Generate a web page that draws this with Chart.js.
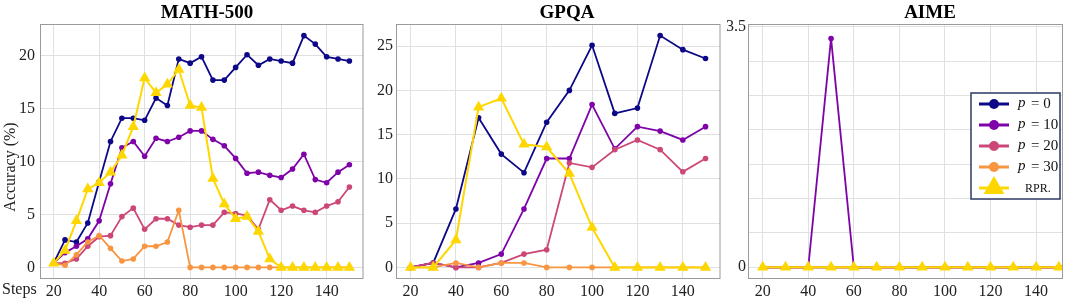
<!DOCTYPE html>
<html>
<head>
<meta charset="utf-8">
<script src="https://cdn.jsdelivr.net/npm/chart.js@4/dist/chart.umd.min.js"></script>
<style>
  body { margin: 0; background: #fff; width: 1080px; height: 305px; position: relative; overflow: hidden; }
  canvas { position: absolute; top: 0; }
</style>
</head>
<body>
<canvas id="math" width="370" height="305" style="left:0"></canvas>
<canvas id="gpqa" width="357" height="305" style="left:370px"></canvas>
<canvas id="aime" width="353" height="305" style="left:727px"></canvas>
<script>
// MATH-500, steps every 5
const mathSteps = [20, 25, 30, 35, 40, 45, 50, 55, 60, 65, 70, 75, 80, 85, 90, 95, 100, 105, 110, 115, 120, 125, 130, 135, 140, 145, 150];
const mathP0  = [0.4, 2.6, 2.4, 4.2, 8.1, 11.9, 14.1, 14.1, 13.9, 16.0, 15.3, 19.7, 19.3, 19.9, 17.7, 17.7, 18.9, 20.1, 19.1, 19.7, 19.5, 19.3, 21.9, 21.1, 19.9, 19.7, 19.5];
const mathP10 = [0.4, 1.4, 2.0, 2.7, 4.4, 7.9, 11.3, 11.9, 10.5, 12.2, 11.9, 12.3, 12.9, 12.9, 12.1, 11.5, 10.3, 8.9, 9.0, 8.7, 8.5, 9.3, 10.7, 8.3, 8.0, 9.0, 9.7];
const mathP20 = [0.4, 0.4, 0.8, 2.0, 2.9, 3.0, 4.8, 5.6, 3.6, 4.6, 4.6, 4.0, 3.8, 4.0, 4.0, 5.2, 5.1, 4.9, 3.6, 6.4, 5.4, 5.8, 5.4, 5.2, 5.8, 6.2, 7.6];
const mathP30 = [0.4, 0.2, 1.2, 2.4, 3.0, 1.8, 0.6, 0.8, 2.0, 2.0, 2.4, 5.4, 0, 0, 0, 0, 0, 0, 0, 0, 0, 0, 0, 0, 0, 0, 0];
const mathRpr = [0.4, 1.6, 4.4, 7.4, 8.0, 9.0, 10.6, 13.3, 17.9, 16.5, 17.3, 18.7, 15.3, 15.1, 8.4, 6.0, 4.6, 4.8, 3.4, 0.8, 0, 0, 0, 0, 0, 0, 0];

// GPQA, steps every 10
const gpqaSteps = [20, 30, 40, 50, 60, 70, 80, 90, 100, 110, 120, 130, 140, 150];
const gpqaP0  = [0, 0.5, 6.6, 16.9, 12.8, 10.7, 16.4, 20.0, 25.1, 17.4, 18.0, 26.2, 24.6, 23.6];
const gpqaP10 = [0, 0.5, 0, 0.5, 1.5, 6.6, 12.3, 12.3, 18.4, 13.4, 15.9, 15.4, 14.4, 15.9];
const gpqaP20 = [0, 0.5, 0, 0, 0.5, 1.5, 2.0, 11.8, 11.3, 13.3, 14.4, 13.3, 10.8, 12.3];
const gpqaP30 = [0, 0, 0.5, 0, 0.5, 0.5, 0, 0, 0, 0, 0, 0, 0, 0];
const gpqaRpr = [0, 0, 3.1, 18.1, 19.1, 13.9, 13.6, 10.6, 4.5, 0, 0, 0, 0, 0];

// AIME, steps every 10
const aimeSteps = [20, 30, 40, 50, 60, 70, 80, 90, 100, 110, 120, 130, 140, 150];
const aimeP0  = [0, 0, 0, 0, 0, 0, 0, 0, 0, 0, 0, 0, 0, 0];
const aimeP10 = [0, 0, 0, 3.33, 0, 0, 0, 0, 0, 0, 0, 0, 0, 0];
const aimeP20 = [0, 0, 0, 0, 0, 0, 0, 0, 0, 0, 0, 0, 0, 0];
const aimeP30 = [0, 0, 0, 0, 0, 0, 0, 0, 0, 0, 0, 0, 0, 0];
const aimeRpr = [0, 0, 0, 0, 0, 0, 0, 0, 0, 0, 0, 0, 0, 0];

const xTicks = [20, 40, 60, 80, 100, 120, 140];
const mathYTicks = [0, 5, 10, 15, 20];
const gpqaYTicks = [0, 5, 10, 15, 20, 25];
const aimeYTicks = [0, 0.5, 1, 1.5, 2, 2.5, 3, 3.5];
const aimeYLabels = [0, 3.5];

const pValues = [0, 10, 20, 30];
const seriesNames = ['p = 0', 'p = 10', 'p = 20', 'p = 30', 'RPR.'];
const seriesColors = ['#0d0887', '#7e03a8', '#cc4778', '#f89540', '#ffd700'];

const SERIF = '"Liberation Serif", "Times New Roman", serif';

function lineSet(i, steps, values) {
    const rpr = i === 4;
    return {
        label: seriesNames[i],
        data: steps.map((s, k) => ({ x: s, y: values[k] })),
        borderColor: seriesColors[i],
        backgroundColor: seriesColors[i],
        borderWidth: rpr ? 2 : 1.8,
        pointStyle: rpr ? 'triangle' : 'circle',
        pointRadius: rpr ? 6.5 : 2.8,
        pointBorderWidth: 0,
        pointHoverRadius: 0,
        order: 4 - i,
        tension: 0
    };
}

// frame, titles and the legend box
const decoPlugin = {
    id: 'deco',
    afterDraw(chart, args, opts) {
        const { ctx, chartArea: a } = chart;
        ctx.save();
        ctx.strokeStyle = '#9a9a9a';
        ctx.lineWidth = 1;
        ctx.strokeRect(a.left + 0.5, a.top + 0.5, a.width - 1, a.height);

        ctx.fillStyle = '#000';
        ctx.font = 'bold 19px ' + SERIF;
        ctx.textAlign = 'center';
        ctx.textBaseline = 'middle';
        ctx.fillText(opts.title, opts.titleX, 13);

        ctx.font = '16px ' + SERIF;
        ctx.fillStyle = '#222';
        if (opts.yTitle) {
            ctx.save();
            ctx.translate(11, 167);
            ctx.rotate(-Math.PI / 2);
            ctx.fillText(opts.yTitle, 0, 0);
            ctx.restore();
        }
        if (opts.steps) {
            ctx.textAlign = 'left';
            ctx.fillText(opts.steps, 2, 290);
        }
        if (opts.legend) drawLegend(ctx, opts.legend);
        ctx.restore();
    }
};

function drawLegend(ctx, L) {
    ctx.fillStyle = '#fff';
    ctx.fillRect(L.x, L.y, L.w, L.h);
    ctx.strokeStyle = '#2b3a63';
    ctx.lineWidth = 1.5;
    ctx.strokeRect(L.x, L.y, L.w, L.h);
    seriesNames.forEach((name, i) => {
        const cy = L.y + 11 + i * 21;
        const x0 = L.x + 8, x1 = L.x + 38, cx = (x0 + x1) / 2;
        ctx.strokeStyle = seriesColors[i];
        ctx.fillStyle = seriesColors[i];
        ctx.lineWidth = 3;
        ctx.beginPath();
        ctx.moveTo(x0, cy);
        ctx.lineTo(x1, cy);
        ctx.stroke();
        ctx.beginPath();
        if (i === 4) {
            const r = 12;
            ctx.moveTo(cx, cy - r);
            ctx.lineTo(cx + r * 0.866, cy + r * 0.5);
            ctx.lineTo(cx - r * 0.866, cy + r * 0.5);
            ctx.closePath();
        } else {
            ctx.arc(cx, cy, 5, 0, Math.PI * 2);
        }
        ctx.fill();

        ctx.fillStyle = '#111';
        ctx.textAlign = 'left';
        ctx.textBaseline = 'middle';
        if (i < 4) {
            ctx.font = 'italic 15px ' + SERIF;
            ctx.fillText('p', L.x + 47, cy - 1);
            ctx.font = '15px ' + SERIF;
            ctx.fillText('= ' + pValues[i], L.x + 60, cy);
        } else {
            ctx.font = '12px ' + SERIF;
            ctx.fillText(name, L.x + 54, cy + 1);
        }
    });
}

function makePanel(id, steps, series, cfg) {
    const ctx = document.getElementById(id).getContext('2d');
    return new Chart(ctx, {
        type: 'line',
        data: { datasets: series.map((vals, i) => lineSet(i, steps, vals)) },
        options: {
            responsive: false,
            animation: false,
            layout: { padding: { top: 24, right: cfg.right, bottom: 0, left: 0 } },
            plugins: {
                legend: { display: false },
                tooltip: { enabled: false },
                deco: cfg.deco
            },
            scales: {
                x: {
                    type: 'linear',
                    min: cfg.xMin,
                    max: cfg.xMax,
                    afterBuildTicks: (s) => { s.ticks = xTicks.map(v => ({ value: v })); },
                    afterFit: (s) => { s.height = 27; },
                    grid: { color: '#e0e0e0', drawTicks: false },
                    border: { display: false },
                    ticks: { padding: 4, color: '#222', font: { family: SERIF, size: 16 }, maxRotation: 0 }
                },
                y: {
                    min: cfg.yMin,
                    max: cfg.yMax,
                    afterBuildTicks: (s) => { s.ticks = cfg.yTicks.map(v => ({ value: v })); },
                    afterFit: (s) => { s.width = cfg.yWidth; },
                    grid: { color: '#e0e0e0', drawTicks: false },
                    border: { display: false },
                    ticks: {
                        padding: cfg.yPad,
                        color: '#222',
                        font: { family: SERIF, size: 16 },
                        callback: cfg.yLabel || ((v) => v)
                    }
                }
            }
        },
        plugins: [decoPlugin]
    });
}

makePanel('math', mathSteps, [mathP0, mathP10, mathP20, mathP30, mathRpr], {
    right: 2, yWidth: 40, yPad: 5,
    xMin: 14, xMax: 156.2, yMin: -1.0, yMax: 23.0, yTicks: mathYTicks,
    deco: { title: 'MATH-500', titleX: 207, yTitle: 'Accuracy (%)', steps: 'Steps' }
});

makePanel('gpqa', gpqaSteps, [gpqaP0, gpqaP10, gpqaP20, gpqaP30, gpqaRpr], {
    right: 2, yWidth: 26, yPad: 3,
    xMin: 13.6, xMax: 156.6, yMin: -1.2, yMax: 27.5, yTicks: gpqaYTicks,
    deco: { title: 'GPQA', titleX: 197 }
});

makePanel('aime', aimeSteps, [aimeP0, aimeP10, aimeP20, aimeP30, aimeRpr], {
    right: 17, yWidth: 21, yPad: 2,
    xMin: 13.55, xMax: 151.8, yMin: -0.156, yMax: 3.54, yTicks: aimeYTicks,
    yLabel: (v) => (aimeYLabels.includes(v) ? v : ''),
    deco: {
        title: 'AIME', titleX: 203,
        legend: { x: 244, y: 93, w: 89, h: 106 }
    }
});
</script>
</body>
</html>
